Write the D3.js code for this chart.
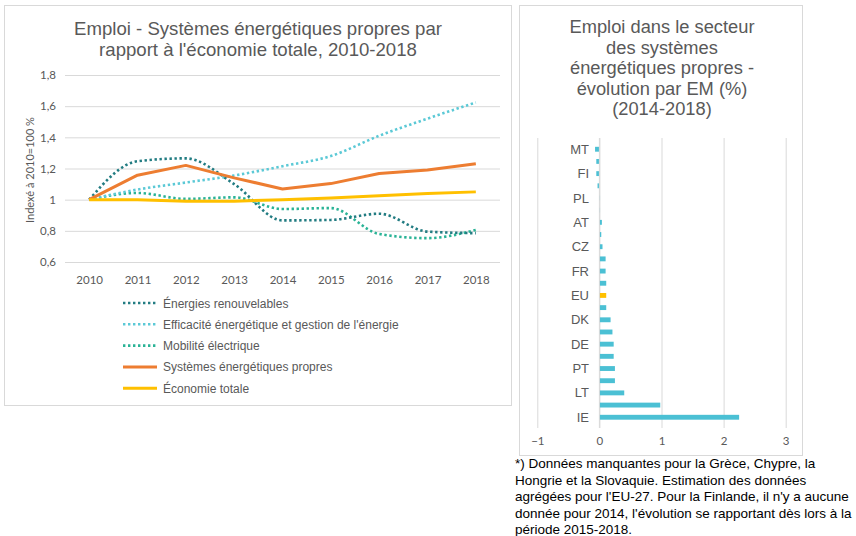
<!DOCTYPE html>
<html><head><meta charset="utf-8">
<script src="https://cdn.jsdelivr.net/npm/d3@7"></script>
<style>
body{margin:0;background:#fff;}
svg{display:block;}
</style></head>
<body>
<svg id="c" width="856" height="536"></svg>
<script>
// ---------- DATA ----------
const years = ["2010","2011","2012","2013","2014","2015","2016","2017","2018"];
const renouvelables = [1.0, 1.247, 1.265, 1.10, 0.867, 0.87, 0.91, 0.795, 0.785];
const efficacite = [1.0, 1.065, 1.11, 1.155, 1.215, 1.28, 1.41, 1.52, 1.624];
const mobilite = [1.0, 1.043, 1.005, 1.015, 0.94, 0.946, 0.78, 0.753, 0.806];
const systemes = [1.0, 1.157, 1.22, 1.14, 1.069, 1.103, 1.168, 1.19, 1.23];
const economie = [1.0, 1.0, 0.99, 0.99, 1.0, 1.01, 1.025, 1.04, 1.05];
const yTicks = [0.6, 0.8, 1.0, 1.2, 1.4, 1.6, 1.8];
const seriesNames = ["Énergies renouvelables","Efficacité énergétique et gestion de l'énergie","Mobilité électrique","Systèmes énergétiques propres","Économie totale"];

const countries = ["MT","SI","FI","RO","PL","IT","AT","BE","CZ","HR","FR","SE","EU","ES","DK","NL","DE","BG","PT","EE","LT","LU","IE"];
const changes = [-0.07,-0.05,-0.05,-0.03,0.01,0.01,0.04,0.03,0.05,0.10,0.10,0.11,0.11,0.11,0.18,0.21,0.23,0.23,0.25,0.25,0.40,0.98,2.25];
const barTicks = [-1,0,1,2,3];

const leftTitle = ["Emploi - Systèmes énergétiques propres par","rapport à l'économie totale, 2010-2018"];
const rightTitle = ["Emploi dans le secteur","des systèmes","énergétiques propres -","évolution par EM (%)","(2014-2018)"];
const footnote = ["*) Données manquantes pour la Grèce, Chypre, la","Hongrie et la Slovaquie. Estimation des données","agrégées pour l'EU-27. Pour la Finlande, il n'y a aucune","donnée pour 2014, l'évolution se rapportant dès lors à la","période 2015-2018."];

// ---------- STYLE ----------
const txt = "#595959", grid = "#D9D9D9";
const titleFont = "'Liberation Sans', Arial, sans-serif";
const tickFont = "Lato, 'Open Sans', sans-serif";
const styles = [
  {color:"#227C82", dotted:true},
  {color:"#5BC9D6", dotted:true},
  {color:"#2AB396", dotted:true},
  {color:"#ED7D31", dotted:false},
  {color:"#FFC000", dotted:false}
];
const allSeries = [renouvelables, efficacite, mobilite, systemes, economie];

const svg = d3.select("#c");

// ---------- LEFT PANEL ----------
svg.append("rect").attr("x",4.5).attr("y",5.5).attr("width",507).attr("height",400)
  .attr("fill","#fff").attr("stroke",grid);

const lt = svg.append("text").attr("text-anchor","middle").attr("fill",txt)
  .style("font-family",titleFont).style("font-size","18.6px");
leftTitle.forEach((t,i)=>lt.append("tspan").attr("x",258).attr("y",35+i*20.5).text(t));

const x = d3.scalePoint().domain(years).range([65,500]).padding(0.5);
const y = d3.scaleLinear().domain([0.6,1.8]).range([262,75]);

const gY = svg.append("g").attr("transform","translate(65,0)")
  .call(d3.axisLeft(y).tickValues(yTicks).tickSize(-435).tickFormat(d=>d3.format(".1f")(d).replace(".",",").replace(",0","")));
gY.select(".domain").remove();
gY.selectAll(".tick line").attr("stroke",grid);
gY.selectAll(".tick text").attr("fill",txt).attr("x",-9).style("font-family",tickFont).style("font-size","11.5px");

const gX = svg.append("g").attr("transform","translate(0,262)")
  .call(d3.axisBottom(x).tickSize(0));
gX.select(".domain").remove();
gX.selectAll(".tick text").attr("fill",txt).attr("dy","1.1em").attr("y",9).style("font-family",tickFont).style("font-size","11.5px");

svg.append("text").attr("transform","translate(34,170) rotate(-90)").attr("text-anchor","middle")
  .attr("fill",txt).style("font-family",tickFont).style("font-size","11px").text("Indexé à 2010=100 %");

const lineSmooth = d3.line().x((d,i)=>x(years[i])).y(d=>y(d)).curve(d3.curveMonotoneX);
const lineStraight = d3.line().x((d,i)=>x(years[i])).y(d=>y(d));

[2,1,0,3,4].forEach(k=>{
  const s = styles[k];
  svg.append("path").datum(allSeries[k])
    .attr("d", s.dotted ? lineSmooth : lineStraight)
    .attr("fill","none").attr("stroke",s.color)
    .attr("stroke-width", s.dotted ? 2.6 : 3)
    .attr("stroke-dasharray", s.dotted ? "2.4 2.6" : null)
    .attr("stroke-linejoin","round");
});

// legend
seriesNames.forEach((n,k)=>{
  const s = styles[k];
  const yy = 303 + k*21.3;
  svg.append("line").attr("x1",123).attr("x2",157).attr("y1",yy).attr("y2",yy)
    .attr("stroke",s.color).attr("stroke-width", s.dotted?2.6:3)
    .attr("stroke-dasharray", s.dotted ? "2.4 2.6" : null);
  svg.append("text").attr("x",163).attr("y",yy+4.5).attr("fill",txt)
    .style("font-family",titleFont).style("font-size","12px").text(n);
});

// ---------- RIGHT PANEL ----------
svg.append("rect").attr("x",519.5).attr("y",5.5).attr("width",283).attr("height",450)
  .attr("fill","#fff").attr("stroke",grid);

const rt = svg.append("text").attr("text-anchor","middle").attr("fill",txt)
  .style("font-family",titleFont).style("font-size","18.3px");
rightTitle.forEach((t,i)=>rt.append("tspan").attr("x",662).attr("y",33+i*20.6).text(t));

const bx = d3.scaleLinear().domain([-1,3]).range([537.3,785.7]);
const by = d3.scaleBand().domain(countries).range([139.5,427]).padding(0.6);

const gBX = svg.append("g").attr("transform","translate(0,138)")
  .call(d3.axisBottom(bx).tickValues(barTicks).tickSize(290).tickFormat(d3.format("d")));
gBX.select(".domain").remove();
gBX.selectAll(".tick line").attr("stroke",grid);
gBX.selectAll(".tick text").attr("fill",txt).attr("y",299).attr("dy","0.71em").style("font-family",tickFont).style("font-size","11.5px");

svg.append("g").selectAll("rect").data(countries).join("rect")
  .attr("x",(d,i)=>bx(Math.min(0,changes[i])))
  .attr("width",(d,i)=>Math.abs(bx(changes[i])-bx(0)))
  .attr("y",d=>by(d)).attr("height",by.bandwidth())
  .attr("fill",d=>d==="EU"?"#FFC000":"#4BC0D4");

svg.append("line").attr("x1",bx(0)).attr("x2",bx(0)).attr("y1",138).attr("y2",428).attr("stroke",grid);

svg.append("g").selectAll("text").data(countries.filter((d,i)=>i%2===0)).join("text")
  .attr("x",589).attr("y",d=>by(d)+by.bandwidth()/2).attr("dy","0.35em")
  .attr("text-anchor","end").attr("fill",txt)
  .style("font-family",titleFont).style("font-size","13px").text(d=>d);

// ---------- FOOTNOTE ----------
footnote.forEach((t,i)=>svg.append("text").attr("x",515).attr("y",468+i*16.6)
  .attr("fill","#000").style("font-family",titleFont).style("font-size","13.5px").text(t));
</script>
</body></html>
